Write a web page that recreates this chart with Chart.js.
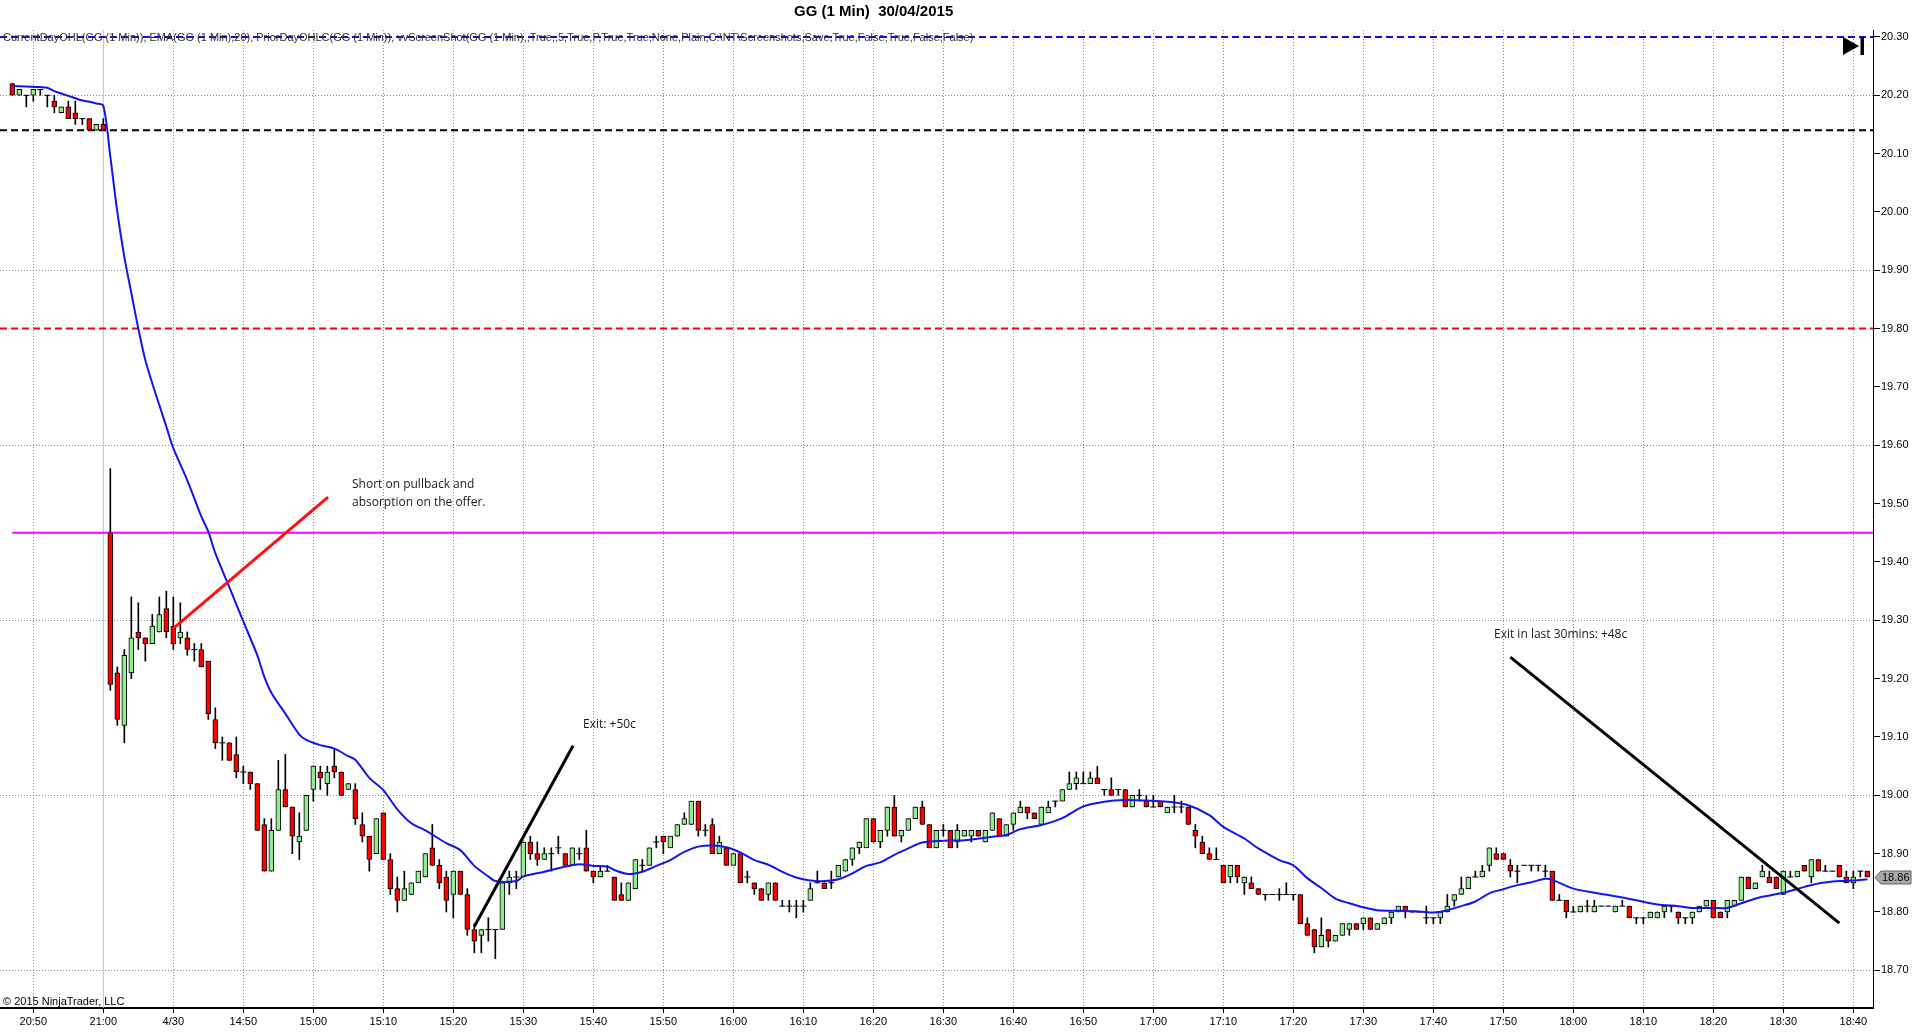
<!DOCTYPE html>
<html>
<head>
<meta charset="utf-8">
<title>GG (1 Min) 30/04/2015</title>
<script src="https://cdn.jsdelivr.net/npm/chart.js@4.4.0/dist/chart.umd.min.js"></script>
<style>
  html, body { margin: 0; padding: 0; background: #fff; }
  canvas { display: block; }
</style>
</head>
<body>
<canvas id="grafica-gg" width="1920" height="1034"></canvas>
<script>
// barra -13 = 20:47 (dia anterior), 0 = 21:00, 1 = 14:31 ... 252 = 18:42
const firstBar = -13;

const opens = [
  20.22,20.20,20.20,20.20,20.21,20.20,20.19,20.17,20.18,20.17,20.16,20.16,20.14,20.15,
  19.45,19.21,19.12,19.21,19.28,19.27,19.26,19.28,19.32,19.29,
  19.27,19.27,19.25,19.25,19.23,19.13,19.09,19.09,19.07,19.04,
  19.04,19.02,18.95,18.87,18.94,19.01,18.98,18.92,18.94,19.01,
  19.04,19.02,19.05,19.04,19.01,19.01,18.95,18.93,18.90,18.97,
  18.89,18.84,18.82,18.83,18.85,18.86,18.91,18.88,18.86,18.83,
  18.87,18.83,18.77,18.76,18.77,18.77,18.77,18.85,18.86,18.86,
  18.92,18.90,18.89,18.90,18.91,18.90,18.88,18.90,18.91,18.87,
  18.86,18.87,18.86,18.83,18.82,18.84,18.88,18.88,18.92,18.93,
  18.91,18.93,18.95,18.95,18.99,18.94,18.95,18.90,18.91,18.88,
  18.90,18.86,18.85,18.84,18.83,18.85,18.81,18.81,18.81,18.81,
  18.82,18.85,18.85,18.85,18.86,18.87,18.89,18.91,18.91,18.96,
  18.92,18.94,18.98,18.93,18.94,18.96,18.98,18.95,18.91,18.94,
  18.94,18.92,18.93,18.93,18.94,18.92,18.94,18.96,18.93,18.95,
  18.97,18.98,18.97,18.95,18.97,18.99,18.99,19.01,19.02,19.02,
  19.02,19.03,19.01,19.01,19.01,19.01,18.98,19.00,18.99,18.98,
  18.99,18.97,18.98,18.98,18.98,18.94,18.92,18.90,18.89,18.88,
  18.86,18.88,18.85,18.85,18.84,18.83,18.83,18.83,18.83,18.83,
  18.83,18.78,18.77,18.74,18.77,18.75,18.76,18.77,18.78,18.78,
  18.79,18.77,18.78,18.79,18.80,18.81,18.80,18.80,18.79,18.79,
  18.79,18.80,18.82,18.83,18.84,18.86,18.86,18.88,18.90,18.90,
  18.88,18.87,18.88,18.88,18.88,18.87,18.87,18.82,18.82,18.80,
  18.80,18.81,18.80,18.81,18.81,18.80,18.81,18.81,18.79,18.79,
  18.79,18.79,18.80,18.81,18.80,18.79,18.79,18.80,18.81,18.82,
  18.80,18.80,18.81,18.82,18.86,18.84,18.86,18.86,18.86,18.83,
  18.86,18.86,18.88,18.86,18.89,18.87,18.87,18.88,18.86,18.85,
  18.87,18.87
];
const highs = [
  20.22,20.21,20.20,20.21,20.21,20.20,20.20,20.18,20.19,20.19,20.16,20.16,20.15,20.16,
  19.56,19.22,19.25,19.34,19.33,19.27,19.31,19.34,19.35,19.34,
  19.33,19.28,19.26,19.26,19.23,19.15,19.10,19.09,19.10,19.05,
  19.04,19.02,18.96,18.96,19.06,19.07,18.98,18.97,19.00,19.05,
  19.05,19.05,19.08,19.04,19.02,19.02,18.97,18.93,18.96,18.97,
  18.90,18.86,18.87,18.85,18.87,18.90,18.95,18.89,18.87,18.87,
  18.87,18.84,18.78,18.77,18.79,18.77,18.85,18.87,18.87,18.92,
  18.93,18.92,18.91,18.91,18.93,18.90,18.91,18.91,18.94,18.87,
  18.88,18.88,18.86,18.85,18.85,18.89,18.89,18.91,18.93,18.93,
  18.93,18.95,18.97,18.99,18.99,18.95,18.96,18.93,18.91,18.90,
  18.90,18.87,18.85,18.84,18.85,18.85,18.82,18.82,18.82,18.82,
  18.85,18.87,18.85,18.87,18.88,18.89,18.91,18.92,18.96,18.96,
  18.94,18.98,19.00,18.94,18.96,18.98,18.99,18.95,18.94,18.95,
  18.94,18.95,18.94,18.94,18.94,18.94,18.97,18.96,18.95,18.97,
  18.99,18.98,18.97,18.98,18.99,18.99,19.01,19.04,19.04,19.04,
  19.04,19.05,19.01,19.03,19.01,19.01,19.00,19.01,19.00,19.00,
  18.99,18.98,19.00,18.99,18.98,18.95,18.93,18.91,18.91,18.88,
  18.88,18.88,18.86,18.86,18.84,18.83,18.83,18.84,18.85,18.83,
  18.83,18.79,18.77,18.79,18.77,18.76,18.78,18.78,18.78,18.79,
  18.79,18.78,18.79,18.80,18.81,18.81,18.80,18.80,18.81,18.79,
  18.80,18.83,18.83,18.86,18.86,18.87,18.88,18.91,18.91,18.90,
  18.89,18.88,18.88,18.88,18.88,18.88,18.87,18.83,18.82,18.81,
  18.81,18.82,18.82,18.81,18.81,18.81,18.82,18.81,18.79,18.79,
  18.80,18.80,18.81,18.81,18.80,18.79,18.80,18.81,18.82,18.82,
  18.80,18.82,18.82,18.86,18.86,18.85,18.88,18.87,18.86,18.87,
  18.87,18.87,18.88,18.89,18.89,18.88,18.87,18.88,18.87,18.87,
  18.87,18.87
];
const lows = [
  20.20,20.20,20.18,20.19,20.20,20.18,20.17,20.17,20.16,20.15,20.15,20.14,20.14,20.14,
  19.18,19.12,19.09,19.20,19.25,19.23,19.26,19.28,19.27,19.25,
  19.26,19.24,19.23,19.22,19.13,19.08,19.06,19.06,19.03,19.02,
  19.01,18.94,18.87,18.87,18.94,18.98,18.90,18.89,18.94,18.99,
  19.01,19.00,19.03,19.00,19.01,18.95,18.92,18.87,18.90,18.89,
  18.83,18.80,18.82,18.83,18.85,18.86,18.88,18.84,18.80,18.79,
  18.83,18.76,18.73,18.73,18.75,18.72,18.77,18.83,18.84,18.86,
  18.89,18.88,18.89,18.87,18.90,18.88,18.88,18.89,18.87,18.85,
  18.86,18.87,18.82,18.82,18.82,18.84,18.87,18.88,18.91,18.90,
  18.91,18.93,18.95,18.95,18.93,18.93,18.90,18.90,18.88,18.88,
  18.85,18.85,18.83,18.82,18.82,18.82,18.81,18.80,18.79,18.80,
  18.82,18.85,18.84,18.84,18.86,18.87,18.88,18.90,18.91,18.92,
  18.91,18.93,18.93,18.92,18.94,18.96,18.95,18.91,18.91,18.93,
  18.91,18.91,18.93,18.92,18.93,18.92,18.94,18.93,18.93,18.94,
  18.97,18.96,18.96,18.95,18.97,18.98,18.99,19.01,19.01,19.02,
  19.02,19.02,19.00,19.00,19.00,18.98,18.98,18.99,18.98,18.98,
  18.98,18.97,18.97,18.97,18.95,18.91,18.90,18.89,18.89,18.85,
  18.85,18.85,18.83,18.84,18.83,18.82,18.83,18.82,18.83,18.82,
  18.78,18.76,18.73,18.74,18.74,18.75,18.76,18.76,18.77,18.77,
  18.77,18.77,18.78,18.78,18.80,18.79,18.80,18.80,18.78,18.78,
  18.78,18.80,18.81,18.83,18.84,18.86,18.86,18.87,18.89,18.89,
  18.86,18.85,18.88,18.87,18.87,18.86,18.82,18.82,18.79,18.80,
  18.80,18.80,18.80,18.81,18.81,18.80,18.81,18.79,18.78,18.78,
  18.79,18.79,18.79,18.80,18.78,18.78,18.78,18.80,18.81,18.79,
  18.79,18.79,18.81,18.82,18.84,18.84,18.86,18.85,18.84,18.83,
  18.86,18.86,18.87,18.85,18.87,18.87,18.87,18.86,18.85,18.84,
  18.86,18.86
];
const closes = [
  20.20,20.21,20.20,20.21,20.21,20.20,20.18,20.18,20.16,20.16,20.16,20.14,20.15,20.14,
  19.19,19.13,19.24,19.27,19.27,19.26,19.29,19.31,19.28,19.26,
  19.28,19.25,19.25,19.22,19.14,19.09,19.09,19.06,19.04,19.04,
  19.02,18.94,18.87,18.94,19.01,18.98,18.93,18.93,19.00,19.05,
  19.03,19.04,19.04,19.00,19.02,18.96,18.93,18.89,18.96,18.89,
  18.84,18.82,18.84,18.85,18.87,18.90,18.88,18.85,18.82,18.87,
  18.83,18.77,18.75,18.77,18.77,18.77,18.85,18.86,18.86,18.92,
  18.90,18.89,18.90,18.90,18.91,18.88,18.91,18.90,18.87,18.86,
  18.87,18.87,18.82,18.82,18.85,18.89,18.88,18.91,18.92,18.92,
  18.93,18.95,18.96,18.99,18.94,18.94,18.90,18.92,18.88,18.90,
  18.85,18.86,18.84,18.82,18.85,18.82,18.81,18.81,18.81,18.81,
  18.84,18.85,18.84,18.85,18.88,18.89,18.91,18.92,18.96,18.92,
  18.94,18.98,18.93,18.94,18.96,18.98,18.95,18.91,18.94,18.94,
  18.91,18.94,18.94,18.94,18.93,18.94,18.97,18.93,18.95,18.97,
  18.98,18.97,18.96,18.98,18.98,18.99,19.01,19.02,19.03,19.02,
  19.03,19.02,19.01,19.00,19.01,18.98,19.00,19.00,18.98,18.98,
  18.98,18.98,18.98,18.98,18.95,18.93,18.90,18.89,18.89,18.85,
  18.88,18.86,18.86,18.84,18.83,18.83,18.83,18.83,18.83,18.83,
  18.78,18.76,18.74,18.76,18.75,18.76,18.78,18.78,18.77,18.79,
  18.77,18.78,18.79,18.80,18.81,18.80,18.80,18.80,18.79,18.79,
  18.80,18.81,18.83,18.84,18.86,18.86,18.87,18.91,18.89,18.89,
  18.87,18.87,18.88,18.88,18.88,18.87,18.82,18.82,18.80,18.80,
  18.81,18.81,18.81,18.81,18.81,18.81,18.81,18.79,18.79,18.79,
  18.80,18.80,18.81,18.81,18.79,18.79,18.80,18.81,18.82,18.79,
  18.79,18.82,18.82,18.86,18.84,18.85,18.87,18.85,18.84,18.87,
  18.86,18.87,18.87,18.89,18.87,18.87,18.87,18.86,18.85,18.86,
  18.87,18.86
];

const emaBar = [-13,-11,-9,-8,-7,-6,-5,-4,-3,-2,-1,0,1,2,3,4,5,6,7,8,9,10,12,14,15,16,18,20,22,23,24,26,28,29,31,33,35,36,38,40,42,44,46,49,51,53,55,56,59,60,63,66,68,70,72,73,75,77,79,81,83,85,87,89,91,93,95,97,99,101,103,105,107,109,111,113,115,117,120,123,127,129,131,134,137,140,143,146,149,152,155,158,160,163,165,168,170,172,174,176,178,180,182,185,188,190,192,194,196,198,200,202,204,206,207,210,213,216,219,222,225,227,230,232,234,237,240,243,245,248,250,252];
const emaVal = [20.216,20.215,20.214,20.213,20.207,20.203,20.199,20.195,20.191,20.189,20.186,20.182,20.095,20.000,19.923,19.861,19.800,19.746,19.706,19.669,19.632,19.595,19.540,19.478,19.452,19.415,19.357,19.298,19.240,19.203,19.176,19.140,19.104,19.095,19.086,19.080,19.067,19.061,19.030,19.009,18.976,18.952,18.940,18.918,18.906,18.879,18.861,18.853,18.853,18.861,18.869,18.878,18.882,18.879,18.878,18.872,18.865,18.869,18.879,18.889,18.903,18.912,18.914,18.911,18.902,18.889,18.881,18.869,18.859,18.854,18.853,18.856,18.866,18.879,18.885,18.898,18.909,18.919,18.922,18.923,18.929,18.932,18.942,18.949,18.961,18.981,18.989,18.992,18.991,18.989,18.983,18.966,18.946,18.926,18.909,18.889,18.880,18.858,18.841,18.823,18.815,18.808,18.803,18.802,18.801,18.799,18.803,18.810,18.818,18.832,18.839,18.846,18.851,18.857,18.855,18.840,18.833,18.827,18.820,18.813,18.810,18.807,18.807,18.807,18.815,18.826,18.833,18.843,18.849,18.853,18.854,18.856];

// lineas de nivel (CurrentDayOHL / PriorDayOHLC)
const nivelPrecio = [20.30, 20.14, 19.80, 19.45];
const nivelColor = ['#1010d0', '#000000', '#ff0000', '#ff00ff'];
const nivelDash = [[7, 4], [7, 4], [7, 4], []];
const nivelInicio = [null, null, null, -13];

// lineas dibujadas a mano: [barra, precio] -> [barra, precio]
const trazoInicio = [[10, 19.286], [53, 18.775], [201, 19.237]];
const trazoFin = [[32.1, 19.511], [67.1, 19.085], [248, 18.781]];
const trazoColor = ['#ff1010', '#000000', '#000000'];

const xTickLabels = ['20:50','21:00','4/30','14:50','15:00','15:10','15:20','15:30','15:40','15:50',
  '16:00','16:10','16:20','16:30','16:40','16:50','17:00','17:10','17:20','17:30','17:40','17:50',
  '18:00','18:10','18:20','18:30','18:40'];
const xTickFirst = -10;
const priceTicks = [18.70,18.80,18.90,19.00,19.10,19.20,19.30,19.40,19.50,19.60,19.70,19.80,19.90,20.00,20.10,20.20,20.30];
const priceGrid = [18.70, 19.00, 19.30, 19.60, 19.90, 20.20];

const notas = [
  { texto: 'Short on pullback and', x: 352, y: 488 },
  { texto: 'absorption on the offer.', x: 352, y: 506 },
  { texto: 'Exit: +50c', x: 583, y: 728 },
  { texto: 'Exit in last 30mins: +48c', x: 1494, y: 638 }
];

const titulo = 'GG (1 Min)  30/04/2015';
const indicadores = 'CurrentDayOHL(GG (1 Min)), EMA(GG (1 Min),20), PriorDayOHLC(GG (1 Min)), vvScreenShot(GG (1 Min),,True,,5,True,P,True,True,None,Plain,C:\\NT\\Screenshots,Save,True,False,True,False,False)';

const xMin = -14.76, xMax = 252.81;
const yMin = 18.6354, yMax = 20.3119;

// construir datasets
const mechas = [], cuerpos = [], coloresCuerpo = [], dojis = [];
opens.forEach((o, i) => {
  const x = firstBar + i;
  const c = closes[i];
  mechas.push({ x, y: [lows[i], highs[i]] });
  if (o === c) {
    dojis.push({ x, y: o });
  } else {
    cuerpos.push({ x, y: [o, c] });
    coloresCuerpo.push(c > o ? '#90ee90' : '#ff0000');
  }
});

const emaData = emaBar.map((b, i) => ({ x: b, y: emaVal[i] }));

const datasets = [];

nivelPrecio.forEach((p, i) => {
  datasets.push({
    type: 'line',
    data: [{ x: nivelInicio[i] ?? xMin, y: p }, { x: xMax, y: p }],
    borderColor: nivelColor[i],
    borderWidth: 2,
    borderDash: nivelDash[i],
    pointRadius: 0,
    order: 8
  });
});

// separador de sesion a las 21:00
datasets.push({
  type: 'line',
  data: [{ x: 0, y: yMin }, { x: 0, y: yMax }],
  borderColor: '#c0c0c0',
  borderWidth: 1,
  pointRadius: 0,
  order: 9
});

datasets.push({
  type: 'bar',
  data: mechas,
  backgroundColor: '#000',
  borderWidth: 0,
  barThickness: 1,
  grouped: false,
  order: 6
});

datasets.push({
  type: 'bar',
  data: cuerpos,
  backgroundColor: coloresCuerpo,
  borderColor: '#000',
  borderWidth: 1,
  borderSkipped: false,
  barThickness: 5,
  grouped: false,
  order: 5
});

datasets.push({
  type: 'scatter',
  data: dojis,
  pointStyle: 'line',
  pointRadius: 3,
  borderColor: '#000',
  borderWidth: 1,
  order: 4
});

datasets.push({
  type: 'line',
  data: emaData,
  borderColor: '#1414f0',
  borderWidth: 2,
  pointRadius: 0,
  tension: 0.3,
  order: 3
});

trazoInicio.forEach((a, i) => {
  datasets.push({
    type: 'line',
    data: [{ x: a[0], y: a[1] }, { x: trazoFin[i][0], y: trazoFin[i][1] }],
    borderColor: trazoColor[i],
    borderWidth: 3,
    pointRadius: 0,
    order: 1
  });
});

const decoraciones = {
  id: 'decoraciones',
  afterDraw(chart) {
    const { ctx, scales } = chart;
    ctx.save();
    ctx.textBaseline = 'alphabetic';
    ctx.textAlign = 'left';

    // titulo
    ctx.fillStyle = '#000';
    ctx.font = 'bold 15px "Liberation Sans", Arial, sans-serif';
    ctx.fillText(titulo, 794, 16);

    // linea de indicadores
    ctx.font = '11px "Liberation Sans", Arial, sans-serif';
    const w = ctx.measureText(indicadores).width;
    const size = 11 * 971 / w;
    ctx.font = size.toFixed(2) + 'px "Liberation Sans", Arial, sans-serif';
    ctx.fillStyle = '#303030';
    ctx.fillText(indicadores, 3, 41);

    // copyright
    ctx.fillStyle = '#000';
    ctx.font = '11px "Liberation Sans", Arial, sans-serif';
    ctx.fillText('\u00a9 2015 NinjaTrader, LLC', 3, 1005);

    // notas
    ctx.font = '12px "Open Sans", "Noto Sans", sans-serif';
    ctx.fillStyle = '#1a1a1a';
    notas.forEach(n => ctx.fillText(n.texto, n.x, n.y));

    // etiqueta del ultimo precio
    const ultimo = closes[closes.length - 1];
    const py = Math.round(scales.y.getPixelForValue(ultimo)) + 0.5;
    const ax = scales.y.left;
    ctx.beginPath();
    ctx.moveTo(ax + 2, py);
    ctx.lineTo(ax + 8, py - 6.5);
    ctx.lineTo(ax + 38, py - 6.5);
    ctx.lineTo(ax + 38, py + 6.5);
    ctx.lineTo(ax + 8, py + 6.5);
    ctx.closePath();
    ctx.fillStyle = '#a9a9a9';
    ctx.fill();
    ctx.strokeStyle = '#606060';
    ctx.lineWidth = 1;
    ctx.stroke();
    ctx.fillStyle = '#000';
    ctx.font = '11px "Liberation Sans", Arial, sans-serif';
    ctx.textBaseline = 'middle';
    ctx.fillText(ultimo.toFixed(2), ax + 9, py + 0.5);

    // icono de desplazamiento
    ctx.fillStyle = '#000';
    ctx.beginPath();
    ctx.moveTo(1843, 37);
    ctx.lineTo(1859, 46);
    ctx.lineTo(1843, 55);
    ctx.closePath();
    ctx.fill();
    ctx.fillRect(1860.5, 37, 3.5, 18);
    ctx.restore();
  }
};

const ctx = document.getElementById('grafica-gg').getContext('2d');
new Chart(ctx, {
  type: 'bar',
  data: { datasets },
  plugins: [decoraciones],
  options: {
    responsive: false,
    animation: false,
    events: [],
    layout: { autoPadding: false, padding: { top: 30, left: 0, right: 0, bottom: 0 } },
    plugins: {
      legend: { display: false },
      tooltip: { enabled: false },
      title: { display: false }
    },
    scales: {
      x: {
        type: 'linear',
        min: xMin,
        max: xMax,
        offset: false,
        afterFit: s => { s.height = 26; },
        afterBuildTicks: s => {
          s.ticks = xTickLabels.map((_, i) => ({ value: xTickFirst + 10 * i }));
        },
        grid: {
          offset: false,
          color: c => (c.tick && c.tick.value === 0) ? 'rgba(0,0,0,0)' : '#8c8c8c',
          lineWidth: 1,
          drawTicks: true,
          tickLength: 5,
          tickColor: '#000',
          tickWidth: 1
        },
        border: { display: true, color: '#000', width: 2, dash: [1, 2] },
        ticks: {
          autoSkip: false,
          maxRotation: 0,
          padding: 2,
          color: '#000',
          font: { family: '"Liberation Sans", Arial, sans-serif', size: 11 },
          callback: (v, i) => xTickLabels[i]
        }
      },
      y: {
        type: 'linear',
        position: 'right',
        min: yMin,
        max: yMax,
        afterFit: s => { s.width = 47; },
        afterBuildTicks: s => {
          s.ticks = priceTicks.map(v => ({ value: v }));
        },
        grid: {
          offset: false,
          color: c => (c.tick && priceGrid.includes(c.tick.value)) ? '#8c8c8c' : 'rgba(0,0,0,0)',
          lineWidth: 1,
          drawTicks: true,
          tickLength: 7,
          tickColor: '#000',
          tickWidth: 1
        },
        border: { display: true, color: '#000', width: 1, dash: [1, 2] },
        ticks: {
          autoSkip: false,
          padding: 1,
          color: '#000',
          font: { family: '"Liberation Sans", Arial, sans-serif', size: 11 },
          callback: v => v.toFixed(2)
        }
      }
    }
  }
});
</script>
</body>
</html>
